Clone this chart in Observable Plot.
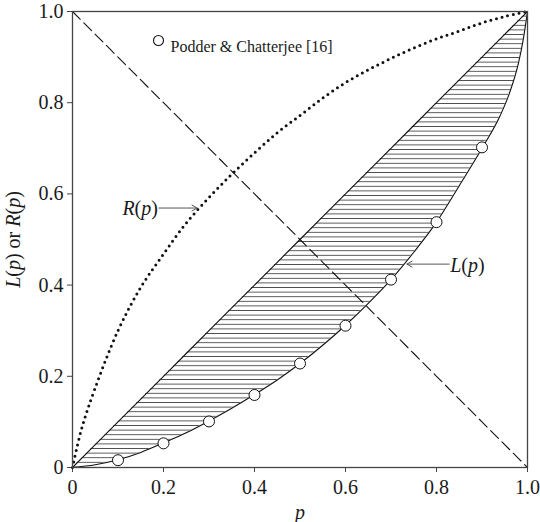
<!DOCTYPE html>
<html>
<head>
<meta charset="utf-8">
<script src="https://cdn.jsdelivr.net/npm/d3@7"></script>
<script src="https://cdn.jsdelivr.net/npm/@observablehq/plot@0.6"></script>
<style>
  body { margin: 0; background: #fff; }
  #chart svg { display: block; }
</style>
</head>
<body>
<div id="chart"></div>
<script>
// Lorenz curve L(p)
const lP = [0, 0.05, 0.1, 0.15, 0.2, 0.25, 0.3, 0.35, 0.4, 0.45, 0.5, 0.55, 0.6, 0.65, 0.7, 0.75, 0.8, 0.85, 0.9, 0.94, 0.96, 0.98, 0.99, 1.0]
const lVal = [0, 0.006, 0.017, 0.033, 0.054, 0.076, 0.102, 0.13, 0.16, 0.192, 0.228, 0.268, 0.312, 0.36, 0.412, 0.472, 0.538, 0.618, 0.70, 0.772, 0.82, 0.886, 0.935, 1.0]

// R(p) dotted curve
const rP = [0, 0.02, 0.05, 0.1, 0.15, 0.2, 0.25, 0.3, 0.35, 0.4, 0.45, 0.5, 0.55, 0.6, 0.65, 0.7, 0.75, 0.8, 0.85, 0.9, 0.95, 1.0]
const rVal = [0, 0.085, 0.175, 0.30, 0.395, 0.468, 0.536, 0.592, 0.643, 0.690, 0.734, 0.772, 0.81, 0.844, 0.872, 0.897, 0.92, 0.94, 0.957, 0.975, 0.989, 1.0]

// Podder & Chatterjee [16] points
const podP = [0.1, 0.2, 0.3, 0.4, 0.5, 0.6, 0.7, 0.8, 0.9]
const podVal = [0.016, 0.053, 0.101, 0.159, 0.228, 0.311, 0.412, 0.538, 0.702]

const ticks = [0, 0.2, 0.4, 0.6, 0.8, 1.0]
const tickLabels = ["0", "0.2", "0.4", "0.6", "0.8", "1.0"]

const legendLabel = "Podder & Chatterjee [16]"
const yTitle = "L(p) or R(p)"
const xTitle = "p"
// curve labels with arrows: label, arrow tail/tip p, height
const rNote = [{label: "R(p)", tail: 0.19, tip: 0.274, y: 0.569}]
const lNote = [{label: "L(p)", tail: 0.828, tip: 0.735, y: 0.446}]

const lorenz = lP.map((p, i) => ({p, L: lVal[i]}))
const rcurve = rP.map((p, i) => ({p, R: rVal[i]}))
const pod = podP.map((p, i) => ({p, v: podVal[i]}))

const font = "'Liberation Serif', 'DejaVu Serif', serif"
const ink = "#1a1a1a"

let chart = Plot.plot({
  width: 540,
  height: 522,
  marginLeft: 72,
  marginRight: 13,
  marginTop: 11,
  marginBottom: 55,
  x: {domain: [0, 1]},
  y: {domain: [0, 1]},
  style: {fontFamily: font, fontSize: 20, color: ink, background: "#fff"},
  marks: [
    Plot.axisX({ticks, tickFormat: (d, i) => tickLabels[i], tickSize: 5, tickPadding: 7, label: null, fontSize: 20, stroke: "#444"}),
    Plot.axisY({ticks, tickFormat: (d, i) => tickLabels[i], tickSize: 5, tickPadding: 4, label: null, fontSize: 20, stroke: "#444"}),
    // hatched gap between equality line and L(p)
    Plot.areaY(lorenz, {x: "p", y1: "L", y2: "p", fill: "url(#hatch)", curve: "monotone-x"}),
    Plot.line(lorenz, {x: "p", y: "p", stroke: "#111", strokeWidth: 1.1}),
    Plot.line(lorenz, {x: "p", y: "L", stroke: "#111", strokeWidth: 1.1, curve: "monotone-x"}),
    // dashed diagonal 1 - p
    Plot.line(lorenz, {x: "p", y: d => 1 - d.p, stroke: "#111", strokeWidth: 1.1, strokeDasharray: "11,5"}),
    // dotted R(p)
    Plot.line(rcurve, {x: "p", y: "R", stroke: "#111", strokeWidth: 3, strokeDasharray: "0,5.8", strokeLinecap: "round", curve: "catmull-rom"}),
    Plot.dot(pod, {x: "p", y: "v", r: 5.5, fill: "#fff", stroke: "#111", strokeWidth: 1}),
    // arrows and their labels
    Plot.arrow([...rNote, ...lNote], {x1: "tail", x2: "tip", y1: "y", y2: "y", stroke: "#555", strokeWidth: 1, headLength: 9, bend: 0}),
    Plot.text(rNote, {x: "tail", y: "y", text: "label", textAnchor: "end", dx: -1, dy: 1, fontSize: 20, fill: ink}),
    Plot.text(lNote, {x: "tail", y: "y", text: "label", textAnchor: "start", dx: 1, dy: 1, fontSize: 20, fill: ink}),
    // legend
    Plot.dot([legendLabel], {frameAnchor: "top-left", dx: 86, dy: 29, r: 5, fill: "#fff", stroke: "#111", strokeWidth: 1.1}),
    Plot.text([legendLabel], {frameAnchor: "top-left", dx: 98, dy: 29, textAnchor: "start", fontSize: 16, fill: ink}),
    // axis titles
    Plot.text([yTitle], {x: -0.129, y: 0.5, rotate: -90, fontSize: 20, fill: ink}),
    Plot.text([xTitle], {x: 0.5, y: -0.098, fontSize: 20, fill: ink}),
    Plot.frame({stroke: "#444", strokeWidth: 1.3})
  ]
})

// horizontal hatch pattern
const svg = d3.select(chart)
const pat = svg.insert("defs", ":first-child").append("pattern")
  .attr("id", "hatch").attr("patternUnits", "userSpaceOnUse")
  .attr("width", 10).attr("height", 4.6)
pat.append("line").attr("x1", 0).attr("x2", 10).attr("y1", 2.3).attr("y2", 2.3)
  .attr("stroke", "#444").attr("stroke-width", 0.9)

// serif everywhere, italic L, R, p in the math labels
svg.selectAll("text").style("font-family", font).style("font-variant", "normal")
const mathLabels = [yTitle, xTitle, "R(p)", "L(p)"]
svg.selectAll("text").each(function () {
  const t = d3.select(this)
  if (t.selectAll("tspan").size() > 0) return
  const s = t.text()
  if (!mathLabels.includes(s)) return
  t.text(null)
  for (const ch of s) {
    t.append("tspan").text(ch).attr("font-style", "LRp".includes(ch) ? "italic" : "normal")
  }
})

d3.select('#chart').append(() => chart)
</script>
</body>
</html>
